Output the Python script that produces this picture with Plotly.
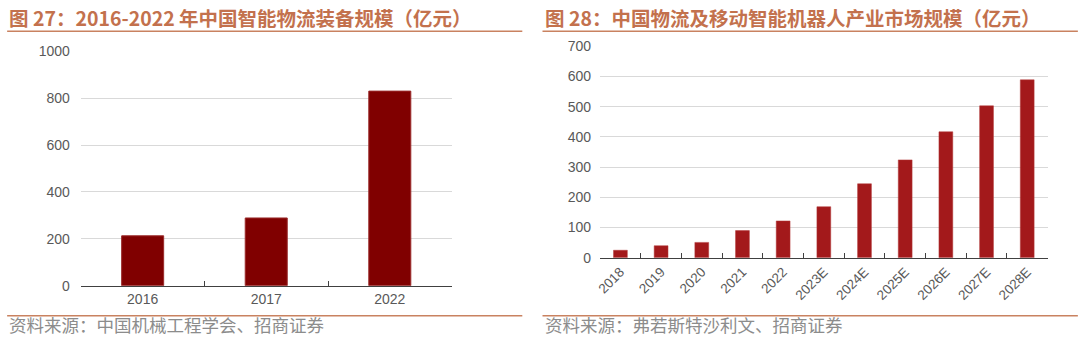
import plotly.graph_objects as go

# Left chart data
left_cats = ["2016", "2017", "2022"]
left_vals = [213, 289, 830]
left_ticks = [0, 200, 400, 600, 800, 1000]

# Right chart data
right_cats = ["2018", "2019", "2020", "2021", "2022", "2023E", "2024E",
              "2025E", "2026E", "2027E", "2028E"]
right_vals = [25, 40, 51, 90, 122, 169, 245, 324, 417, 503, 589]
right_ticks = [0, 100, 200, 300, 400, 500, 600, 700]

W, H = 1080, 341
# the photographed page includes the 8px body margin and is fitted to 1080x341
PAD = 8
SX = W / (W + 2 * PAD)
SY = H / (H + 2 * PAD)

TITLE_C = "#c3714d"
LINE_C = "#c98260"
SRC_C = "#8c8c8c"
TICK_C = "#595959"
FONT = "Liberation Sans, Arial, sans-serif"
CJK = "Noto Sans CJK SC"

def px_x(x):
    return (x / SX - PAD) / W

def px_y(y):
    return 1 - (y / SY - PAD) / H

fig = go.Figure()
fig.add_trace(go.Bar(x=left_cats, y=left_vals, xaxis="x", yaxis="y",
                     marker=dict(color="#800000", line=dict(color="#9a2a2a", width=1)),
                     showlegend=False, hoverinfo="x+y"))
fig.add_trace(go.Bar(x=right_cats, y=right_vals, xaxis="x2", yaxis="y2",
                     marker=dict(color="#a3191b", line=dict(color="#b23a3a", width=0.5)),
                     showlegend=False, hoverinfo="x+y"))

fig.update_layout(
    width=W, height=H, margin=dict(l=0, r=0, t=0, b=0),
    paper_bgcolor="white", plot_bgcolor="white",
    bargap=0.66,
    xaxis=dict(domain=[px_x(83), px_x(450)], anchor="y", type="category",
               tickson="boundaries", ticks="inside", ticklen=5, tickcolor="#404040",
               showgrid=False, showline=True, linecolor="#404040", linewidth=1,
               tickfont=dict(family=FONT, size=14, color=TICK_C)),
    yaxis=dict(domain=[px_y(286), px_y(51)], anchor="x", range=[0, 1000],
               tickvals=left_ticks, showline=False, showgrid=True,
               gridcolor="#d9d9d9", gridwidth=1, zeroline=False, ticks="",
               ticklabelstandoff=10,
               tickfont=dict(family=FONT, size=14, color=TICK_C)),
    xaxis2=dict(domain=[px_x(597), px_x(1040)], anchor="y2", type="category",
                tickson="boundaries", ticks="inside", ticklen=5, tickcolor="#404040",
                tickangle=-45, showgrid=False,
                showline=True, linecolor="#404040", linewidth=1,
                tickfont=dict(family=FONT, size=13.5, color=TICK_C)),
    yaxis2=dict(domain=[px_y(258), px_y(46)], anchor="x2", range=[0, 700],
                tickvals=right_ticks, showline=False, showgrid=True,
                gridcolor="#d9d9d9", gridwidth=1, zeroline=False, ticks="",
                ticklabelstandoff=8,
                tickfont=dict(family=FONT, size=14, color=TICK_C)),
)

# Titles
fig.add_annotation(x=px_x(10), y=px_y(17), xref="paper", yref="paper",
                   xanchor="left", yanchor="middle", showarrow=False,
                   text="<b>图 27：2016-2022 年中国智能物流装备规模（亿元）</b>",
                   font=dict(family=CJK, size=19.5, color=TITLE_C))
fig.add_annotation(x=px_x(540), y=px_y(17), xref="paper", yref="paper",
                   xanchor="left", yanchor="middle", showarrow=False,
                   text="<b>图 28：中国物流及移动智能机器人产业市场规模（亿元）</b>",
                   font=dict(family=CJK, size=19.5, color=TITLE_C))

# Sources
fig.add_annotation(x=px_x(10), y=px_y(325), xref="paper", yref="paper",
                   xanchor="left", yanchor="middle", showarrow=False,
                   text="资料来源：中国机械工程学会、招商证券",
                   font=dict(family=CJK, size=17.5, color=SRC_C))
fig.add_annotation(x=px_x(540), y=px_y(325), xref="paper", yref="paper",
                   xanchor="left", yanchor="middle", showarrow=False,
                   text="资料来源：弗若斯特沙利文、招商证券",
                   font=dict(family=CJK, size=17.5, color=SRC_C))

# Separator lines
for (x0, x1) in [(10, 520), (540, 1070)]:
    for y in (31, 316):
        fig.add_shape(type="line", xref="paper", yref="paper",
                      x0=px_x(x0), x1=px_x(x1), y0=px_y(y), y1=px_y(y),
                      line=dict(color=LINE_C, width=1.5))

fig.write_html("out.html")
